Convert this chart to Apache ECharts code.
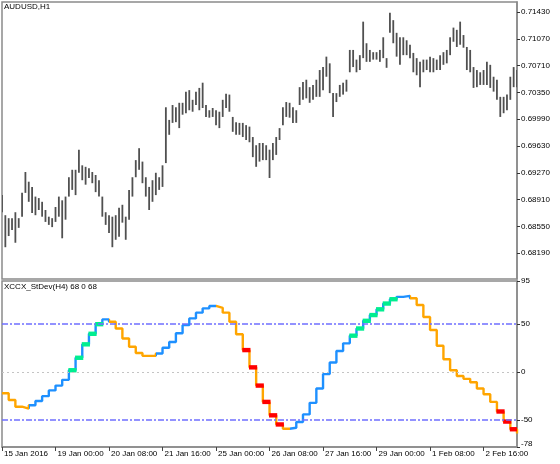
<!DOCTYPE html>
<html><head><meta charset="utf-8">
<script src="https://cdn.jsdelivr.net/npm/echarts@6/dist/echarts.min.js"></script>
<style>html,body{margin:0;padding:0;background:#fff}#c{width:560px;height:464px}</style>
</head><body><div id="c"></div>
<script>
const symbolTitle = 'AUDUSD,H1';
const indicatorTitle = 'XCCX_StDev(H4) 68 0 68';

// 2-hour price bars (high / low)
const priceHigh = [
0.6897,0.6870,0.6866,0.6866,0.6874,0.6866,0.6900,0.6928,0.6915,0.6908,
0.6895,0.6893,0.6888,0.6877,0.6868,0.6866,0.6881,0.6895,0.6890,0.6895,
0.6921,0.6931,0.6931,0.6958,0.6937,0.6935,0.6933,0.6928,0.6924,0.6917,
0.6895,0.6874,0.6870,0.6868,0.6870,0.6880,0.6884,0.6868,0.6904,0.6921,
0.6944,0.6960,0.6942,0.6921,0.6908,0.6917,0.6927,0.6921,0.6937,0.7015,
0.6998,0.7018,0.7015,0.7021,0.7021,0.7036,0.7038,0.7025,0.7036,0.7041,
0.7048,0.7018,0.7011,0.7014,0.7011,0.7009,0.7025,0.7033,0.7032,0.7002,
0.6995,0.6994,0.6994,0.6991,0.6989,0.6975,0.6964,0.6967,0.6967,0.6964,
0.6958,0.6967,0.6975,0.6987,0.7015,0.7022,0.7021,0.7015,0.7011,0.7042,
0.7049,0.7052,0.7042,0.7045,0.7052,0.7065,0.7069,0.7083,0.7074,0.7034,
0.7034,0.7045,0.7048,0.7052,0.7092,0.7092,0.7079,0.7085,0.7130,0.7101,
0.7092,0.7089,0.7089,0.7092,0.7109,0.7081,0.7142,0.7132,0.7115,0.7109,
0.7109,0.7105,0.7099,0.7088,0.7081,0.7076,0.7079,0.7079,0.7083,0.7081,
0.7079,0.7085,0.7089,0.7092,0.7109,0.7122,0.7119,0.7130,0.7112,0.7096,
0.7092,0.7069,0.7065,0.7062,0.7065,0.7076,0.7072,0.7056,0.7052,0.7029,
0.7029,0.7032,0.7056,0.7069,0.7065];
const priceLow = [
0.6874,0.6827,0.6842,0.6850,0.6833,0.6853,0.6868,0.6900,0.6888,0.6873,
0.6870,0.6877,0.6868,0.6861,0.6857,0.6854,0.6861,0.6868,0.6839,0.6864,
0.6895,0.6904,0.6897,0.6927,0.6917,0.6911,0.6920,0.6913,0.6901,0.6895,
0.6868,0.6857,0.6846,0.6827,0.6837,0.6841,0.6860,0.6837,0.6864,0.6895,
0.6921,0.6931,0.6913,0.6895,0.6877,0.6888,0.6897,0.6904,0.6908,0.6940,
0.6978,0.6994,0.6995,0.6987,0.7005,0.7007,0.7011,0.7009,0.7018,0.7011,
0.7014,0.7002,0.7001,0.7002,0.6991,0.6987,0.7002,0.7014,0.7009,0.6982,
0.6978,0.6978,0.6975,0.6971,0.6968,0.6948,0.6935,0.6942,0.6944,0.6944,
0.6920,0.6944,0.6951,0.6971,0.6991,0.7002,0.7001,0.6994,0.6994,0.7018,
0.7025,0.7027,0.7021,0.7025,0.7029,0.7029,0.7038,0.7056,0.7034,0.7002,
0.7022,0.7029,0.7032,0.7036,0.7062,0.7069,0.7062,0.7065,0.7081,0.7076,
0.7076,0.7079,0.7079,0.7076,0.7081,0.7068,0.7115,0.7101,0.7083,0.7072,
0.7085,0.7085,0.7081,0.7062,0.7058,0.7042,0.7062,0.7065,0.7062,0.7062,
0.7065,0.7065,0.7072,0.7074,0.7085,0.7103,0.7096,0.7099,0.7095,0.7065,
0.7062,0.7041,0.7042,0.7045,0.7045,0.7045,0.7041,0.7036,0.7025,0.7002,
0.7007,0.7011,0.7025,0.7042,0.7042];
const priceTicks = [0.68190,0.68550,0.68910,0.69270,0.69630,0.69990,0.70350,0.70710,0.71070,0.71430];

// H4 indicator steps (one per two 2-hour bars)
const indValues = [
-22,-29,-36,-38,-34.5,-30,-25,-19,-14,-8,
2,15,29,40,50,55,52.5,45.5,35,26.5,
20,17,17,19.5,25.5,31.5,40.5,49,56,62,
66.5,69,67,62,52.5,39.5,23,5,-14,-31,
-45,-54.5,-59,-58,-52,-44,-32,-17,-2,10,
22,30,38,45.5,53.5,59.5,65.5,71.5,76,78.5,
79.5,77,70,57.5,44,27.5,13.5,2,-4,-7,
-10.5,-17,-23,-31,-41,-51.5,-59.5,-64];
// 0 = falling (orange), 1 = rising (blue)
const indTrend = [
0,0,0,0,1,1,1,1,1,1,
1,1,1,1,1,1,0,0,0,0,
0,0,0,1,1,1,1,1,1,1,
1,1,0,0,0,0,0,0,0,0,
0,0,0,1,1,1,1,1,1,1,
1,1,1,1,1,1,1,1,1,1,
1,0,0,0,0,0,0,0,0,0,
0,0,0,0,0,0,0,0];
// 0 = none, 1 = strong up (teal), 2 = strong down (red)
const indSignal = [
0,0,0,0,0,0,0,0,0,0,
1,1,1,1,1,0,0,0,0,0,
0,0,0,0,0,0,0,0,0,0,
0,0,0,0,0,0,2,2,2,2,
2,2,0,0,0,0,0,0,0,0,
0,0,1,1,1,1,1,1,1,0,
0,0,0,0,0,0,0,0,0,0,
0,0,0,0,2,2,2,0];
const indTicks = [95,50,0,-50,-78];
const indLevels = [50,-50];
const timeLabels = ['15 Jan 2016','19 Jan 00:00','20 Jan 08:00','21 Jan 16:00','25 Jan 00:00','26 Jan 08:00','27 Jan 16:00','29 Jan 00:00','1 Feb 08:00','2 Feb 16:00'];
const timeLabelBars = [0,16,32,48,64,80,96,112,128,144];

const FONT = 'Liberation Sans';
const categories = priceHigh.map((_, i) => i);
const barData = priceHigh.map((h, i) => [i, priceLow[i], h]);
const indData = indValues.map((v, k) => [2 * k, v]);
const sigData = [];
indValues.forEach((v, k) => { if (indSignal[k]) sigData.push([2 * k, v, indSignal[k]]); });
const TREND_COLORS = ['#FFA500', '#1E90FF'];
const SIG_COLORS = [null, '#00EE90', '#FF0000'];
const pieces = [];
indTrend.forEach((t, k) => {
  const c = TREND_COLORS[t];
  const lo = k === 0 ? -100 : 2 * k - 0.5;
  const hi = k === indTrend.length - 1 ? 10000 : 2 * k + 1.5;
  const last = pieces[pieces.length - 1];
  if (last && last.color === c) last.lt = hi; else pieces.push({ gte: lo, lt: hi, color: c });
});
const labelSet = new Set(timeLabelBars);
const BORDER = '#8a8a8a';

const chart = echarts.init(document.getElementById('c'), null, { renderer: 'canvas' });
chart.setOption({
  animation: false,
  backgroundColor: '#fff',
  textStyle: { fontFamily: FONT },
  grid: [
    { left: 2, right: 43, top: 2, height: 277, show: true, borderColor: BORDER, borderWidth: 1.5, backgroundColor: 'transparent' },
    { left: 2, right: 43, top: 281, height: 166, show: true, borderColor: BORDER, borderWidth: 1.5, backgroundColor: 'transparent' }
  ],
  xAxis: [
    { type: 'category', gridIndex: 0, data: categories, boundaryGap: false, show: false },
    { type: 'category', gridIndex: 1, data: categories, boundaryGap: false, position: 'bottom',
      axisLine: { show: true, onZero: false, lineStyle: { color: BORDER, width: 1.5 } },
      axisTick: { show: true, length: 4, interval: (i) => labelSet.has(i), lineStyle: { color: '#444' } },
      axisLabel: { show: true, interval: (i) => labelSet.has(i), align: 'left', margin: 3, padding: [0, 0, 0, 2],
        fontSize: 8, fontFamily: FONT, color: '#000',
        formatter: (v) => { const p = timeLabelBars.indexOf(Number(v)); return p >= 0 ? timeLabels[p] : ''; } },
      splitLine: { show: false } }
  ],
  yAxis: [
    { type: 'value', gridIndex: 0, position: 'right', min: 0.67843, max: 0.71564, scale: true,
      axisLine: { show: true, lineStyle: { color: BORDER, width: 1.5 } },
      axisTick: { show: true, length: 3, customValues: priceTicks, lineStyle: { color: '#333' } },
      axisLabel: { show: true, margin: 4, customValues: priceTicks, fontSize: 8, fontFamily: FONT, color: '#000',
        formatter: (v) => Number(v).toFixed(5) },
      splitLine: { show: false } },
    { type: 'value', gridIndex: 1, position: 'right', min: -78, max: 95,
      axisLine: { show: true, lineStyle: { color: BORDER, width: 1.5 } },
      axisTick: { show: true, length: 3, customValues: indTicks, lineStyle: { color: '#333' } },
      axisLabel: { show: true, margin: 4, customValues: indTicks, fontSize: 8, fontFamily: FONT, color: '#000',
        formatter: (v) => Number(v) === -78 ? '{lo|-78}' : String(v),
        rich: { lo: { fontSize: 8, fontFamily: FONT, color: '#000', padding: [0, 0, 7, 0] } } },
      splitLine: { show: false } }
  ],
  visualMap: [{
    type: 'piecewise', show: false, seriesIndex: 2, dimension: 0, pieces: pieces
  }],
  series: [
    { type: 'custom', name: 'price', xAxisIndex: 0, yAxisIndex: 0, clip: true,
      encode: { x: 0, y: [1, 2] }, data: barData,
      renderItem: (params, api) => {
        const x = api.value(0);
        const top = api.coord([x, api.value(2)]);
        const bot = api.coord([x, api.value(1)]);
        return { type: 'rect', shape: { x: top[0] - 0.9, y: top[1], width: 1.8, height: Math.max(1, bot[1] - top[1]) },
          style: { fill: '#505050' } };
      } },
    { type: 'line', name: 'zero', xAxisIndex: 1, yAxisIndex: 1, data: [], z: 1,
      markLine: { silent: true, symbol: 'none', label: { show: false },
        lineStyle: { color: '#c4c4c4', type: [2, 3], width: 1 },
        data: [{ yAxis: 0 }] } },
    { type: 'line', name: 'XCCX', xAxisIndex: 1, yAxisIndex: 1, data: indData, step: 'end',
      showSymbol: false, symbol: 'none', z: 3, lineStyle: { width: 2.4 } },
    { type: 'custom', name: 'signal', xAxisIndex: 1, yAxisIndex: 1, z: 4, clip: true,
      encode: { x: 0, y: 1 }, data: sigData,
      renderItem: (params, api) => {
        const a = api.coord([api.value(0), api.value(1)]);
        const b = api.coord([api.value(0) + 2, api.value(1)]);
        return { type: 'rect', shape: { x: a[0] - 0.5, y: a[1] - 2.2, width: b[0] - a[0] + 1.5, height: 4.4 },
          style: { fill: SIG_COLORS[api.value(2)] } };
      } },
    { type: 'line', name: 'levels', xAxisIndex: 1, yAxisIndex: 1, data: [], z: 6,
      markLine: { silent: true, symbol: 'none', label: { show: false },
        lineStyle: { color: '#6f6fff', type: [6, 2, 2, 2], width: 1.5 },
        data: indLevels.map(v => ({ yAxis: v })) } }
  ],
  graphic: [
    { type: 'text', left: 4, top: 3, z: 100, style: { text: symbolTitle, font: '8px "Liberation Sans"', fill: '#000' } },
    { type: 'text', left: 4, top: 283, z: 100, style: { text: indicatorTitle, font: '8px "Liberation Sans"', fill: '#000' } }
  ]
});
</script></body></html>
